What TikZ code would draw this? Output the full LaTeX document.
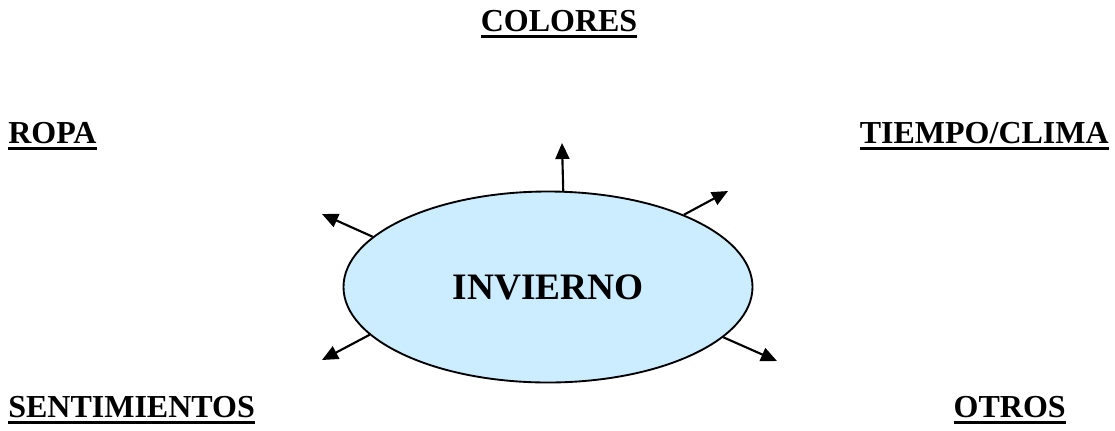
\documentclass[tikz,border=0pt]{standalone}
\usepackage{fontspec}
\setmainfont{Liberation Serif}
\usetikzlibrary{shapes, arrows.meta, positioning}
\definecolor{iceblue}{RGB}{204, 236, 255}
\newcommand{\ulword}[1]{\vtop{\hbox{#1}\kern2.6pt\hrule height 2.4pt}}

\begin{document}
\begin{tikzpicture}[x=0.75pt, y=-0.75pt,
  topic/.style={inner sep=0pt, font=\fontsize{24}{28}\selectfont\bfseries},
  hub/.style={draw, ellipse, fill=iceblue, line width=1.4pt,
              minimum width=306.75pt, minimum height=143.25pt,
              font=\fontsize{28}{32}\selectfont\bfseries},
  spoke/.style={-{Triangle[length=12pt, width=10.5pt]}, line width=1.6pt},
]
\useasboundingbox (0, 0) rectangle (1115, 430);

% Ellipse
\node[hub] (inv) at (548, 287) {INVIERNO};

% Topics
\node[topic, anchor=base] (colores) at (559, 31) {\ulword{COLORES}};
\node[topic, anchor=base west] (ropa) at (8, 143) {\ulword{ROPA}};
\node[topic, anchor=base east] (tiempo) at (1109, 143) {\ulword{TIEMPO/CLIMA}};
\node[topic, anchor=base west] (sent) at (8, 417) {\ulword{SENTIMIENTOS}};
\node[topic, anchor=base east] (otros) at (1066, 417) {\ulword{OTROS}};

% Arrow tips
\coordinate (tipN) at (562, 143);
\coordinate (tipNE) at (728, 191);
\coordinate (tipNW) at (322, 214);
\coordinate (tipSW) at (322, 360);
\coordinate (tipSE) at (777, 361);

\draw[spoke] (inv.81.8) -- (tipN);
\draw[spoke] (inv.28.9) -- (tipNE);
\draw[spoke] (inv.164.9) -- (tipNW);
\draw[spoke] (inv.195.7) -- (tipSW);
\draw[spoke] (inv.344.5) -- (tipSE);
\end{tikzpicture}
\end{document}
